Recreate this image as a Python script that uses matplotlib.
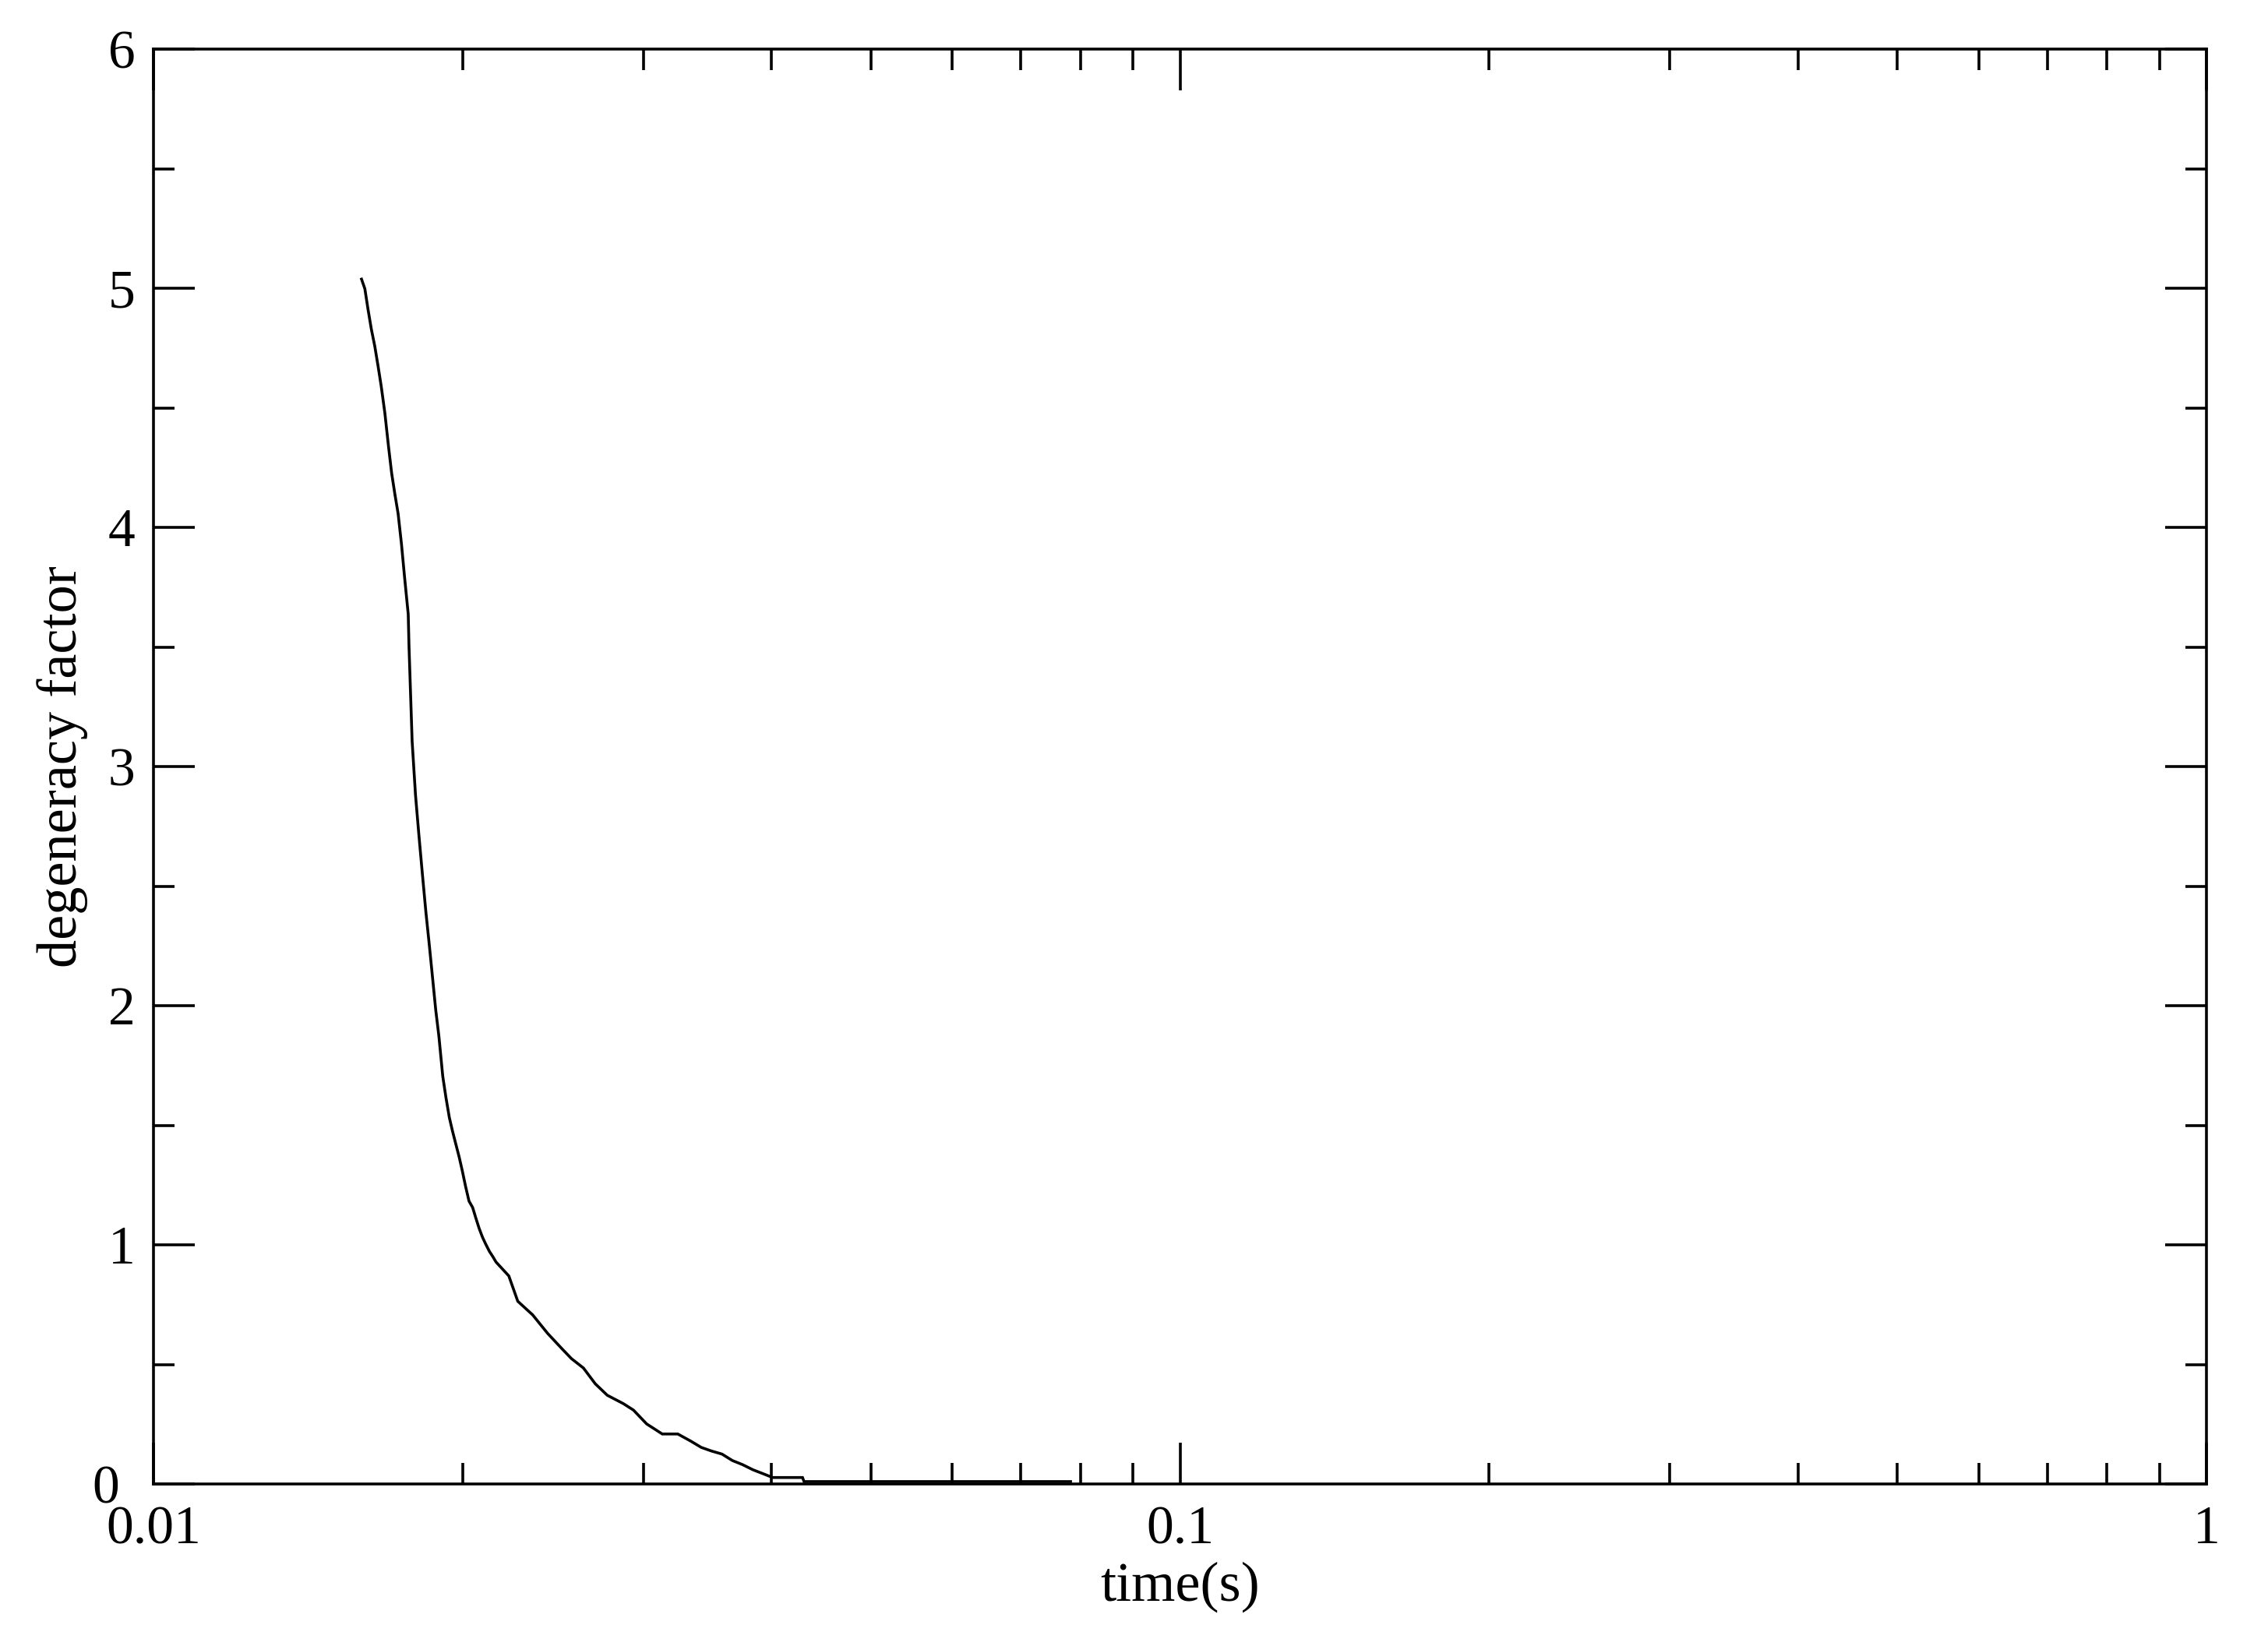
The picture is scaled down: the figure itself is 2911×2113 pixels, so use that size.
import numpy as np
import matplotlib
matplotlib.use("Agg")
import matplotlib.pyplot as plt
import matplotlib.transforms as mtransforms
from matplotlib.ticker import LogLocator, MultipleLocator, FixedFormatter, FixedLocator

plt.rcParams['font.family'] = ['Liberation Serif', 'DejaVu Serif']

# data
time_s = [0.015946, 0.016066, 0.016179, 0.016303, 0.016426, 0.016550, 0.016666,
          0.016803, 0.016942, 0.017061, 0.017181, 0.017310, 0.017441, 0.017563,
          0.017708, 0.017739, 0.017864, 0.018000, 0.018139, 0.018285, 0.018426,
          0.018555, 0.018695, 0.018836, 0.018968, 0.019134, 0.019268, 0.019417,
          0.019553, 0.019701, 0.019849, 0.019988, 0.020142, 0.020294, 0.020461,
          0.020605, 0.020760, 0.020917, 0.021064, 0.021249, 0.021413, 0.021563,
          0.022190, 0.022641, 0.023410, 0.024205, 0.025031, 0.025539, 0.026232,
          0.026938, 0.027674, 0.028688, 0.029347, 0.030232, 0.030588, 0.031307,
          0.032420, 0.033380, 0.034166, 0.034950, 0.035797, 0.036639, 0.037480,
          0.038388, 0.039408, 0.040103, 0.042882, 0.043032, 0.078237]
degeneracy = [5.038, 4.998, 4.913, 4.828, 4.759, 4.674, 4.591,
              4.479, 4.338, 4.227, 4.142, 4.058, 3.931, 3.792,
              3.637, 3.502, 3.105, 2.880, 2.711, 2.544, 2.389,
              2.264, 2.123, 1.981, 1.873, 1.705, 1.618, 1.533,
              1.477, 1.422, 1.368, 1.311, 1.243, 1.183, 1.156,
              1.113, 1.069, 1.032, 1.004, 0.972, 0.950, 0.928,
              0.870, 0.764, 0.707, 0.630, 0.563, 0.524, 0.485,
              0.419, 0.371, 0.336, 0.309, 0.251, 0.237, 0.209,
              0.209, 0.179, 0.153, 0.138, 0.125, 0.098, 0.081,
              0.059, 0.040, 0.027, 0.027, 0.010, 0.010]

x_ticks = [0.01, 0.1, 1]
x_tick_labels = ["0.01", "0.1", "1"]
y_ticks = [0, 1, 2, 3, 4, 5, 6]
y_tick_labels = ["0", "1", "2", "3", "4", "5", "6"]

W, H = 2911, 2113
fig = plt.figure(figsize=(W / 100, H / 100), dpi=100)
ax = fig.add_axes([197 / W, 1 - 1905 / H, (2832 - 197) / W, (1905 - 63) / H])

ax.plot(time_s, degeneracy, color='black', lw=2.6, solid_joinstyle='miter')

ax.set_xscale('log')
ax.set_xlim(0.01, 1)
ax.set_ylim(0, 6)
ax.xaxis.set_major_locator(FixedLocator(x_ticks))
ax.xaxis.set_major_formatter(FixedFormatter(x_tick_labels))
ax.xaxis.set_minor_locator(LogLocator(base=10, subs=np.arange(2, 10)))
ax.xaxis.set_minor_formatter(plt.NullFormatter())
ax.yaxis.set_major_locator(FixedLocator(y_ticks))
ax.yaxis.set_major_formatter(FixedFormatter(y_tick_labels))
ax.yaxis.set_minor_locator(MultipleLocator(0.5))

for s in ax.spines.values():
    s.set_linewidth(2.6)

ax.tick_params(which='both', direction='in', top=True, right=True, width=2.6, color='black')
ax.tick_params(which='major', length=38)
ax.tick_params(which='minor', length=19.5)
ax.tick_params(axis='x', which='major', labelsize=50, pad=20)
ax.tick_params(axis='y', which='major', labelsize=50, pad=17)

ax.set_xlabel("time(s)", fontsize=52, labelpad=6)
ax.set_ylabel("degeneracy factor", fontsize=52, labelpad=4)

# the "0" label of the y axis sits a little further left in the reference
fig.canvas.draw()
ylabels = ax.get_yticklabels()
if ylabels:
    off = mtransforms.ScaledTranslation(-0.20, 0, fig.dpi_scale_trans)
    ylabels[0].set_transform(ylabels[0].get_transform() + off)

fig.savefig("out.png", dpi=100, facecolor='white')
